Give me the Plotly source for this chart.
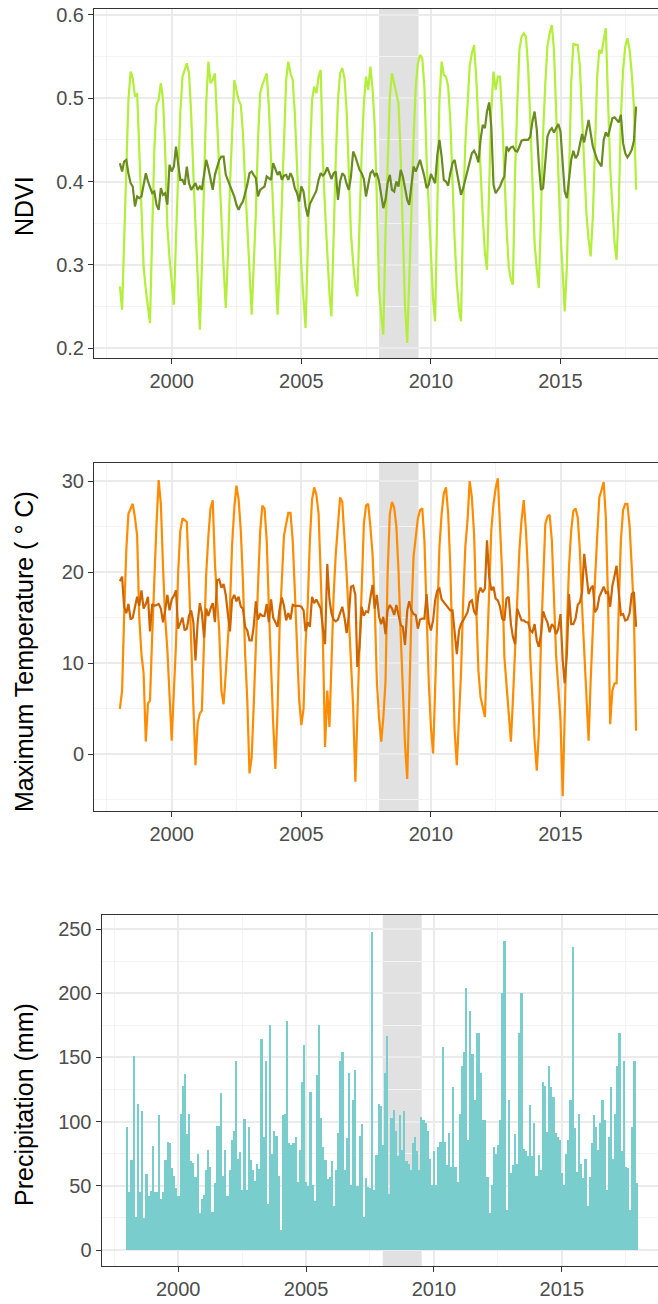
import pandas as pd
import plotly.graph_objects as go

# ---------------- data (monthly, Jan 1998 - Dec 2017) ----------------
dates = pd.date_range("1998-01-01", periods=240, freq="MS")

ndvi = [
    0.274, 0.246, 0.326, 0.418, 0.498, 0.532, 0.524, 0.502, 0.506, 0.438, 0.362, 0.298,
    0.270, 0.250, 0.230, 0.338, 0.438, 0.492, 0.498, 0.518, 0.498, 0.438, 0.346, 0.308,
    0.282, 0.252, 0.330, 0.422, 0.482, 0.526, 0.534, 0.542, 0.530, 0.482, 0.410, 0.342,
    0.278, 0.222, 0.298, 0.394, 0.494, 0.544, 0.518, 0.522, 0.530, 0.474, 0.410, 0.346,
    0.298, 0.248, 0.306, 0.394, 0.466, 0.522, 0.510, 0.498, 0.492, 0.458, 0.398, 0.346,
    0.298, 0.240, 0.298, 0.362, 0.450, 0.506, 0.516, 0.522, 0.530, 0.490, 0.422, 0.358,
    0.294, 0.240, 0.298, 0.378, 0.466, 0.522, 0.544, 0.530, 0.522, 0.482, 0.418, 0.350,
    0.298, 0.258, 0.224, 0.318, 0.426, 0.498, 0.514, 0.506, 0.526, 0.534, 0.426, 0.366,
    0.306, 0.266, 0.238, 0.338, 0.426, 0.498, 0.530, 0.536, 0.524, 0.486, 0.418, 0.338,
    0.302, 0.274, 0.262, 0.358, 0.434, 0.494, 0.526, 0.510, 0.538, 0.512, 0.466, 0.378,
    0.270, 0.238, 0.216, 0.338, 0.430, 0.502, 0.530, 0.518, 0.508, 0.494, 0.430, 0.338,
    0.250, 0.206, 0.274, 0.362, 0.450, 0.514, 0.542, 0.552, 0.548, 0.514, 0.426, 0.370,
    0.306, 0.258, 0.232, 0.394, 0.498, 0.544, 0.528, 0.526, 0.514, 0.474, 0.394, 0.330,
    0.278, 0.246, 0.232, 0.370, 0.446, 0.502, 0.538, 0.554, 0.564, 0.526, 0.466, 0.410,
    0.358, 0.314, 0.294, 0.394, 0.486, 0.532, 0.510, 0.526, 0.526, 0.478, 0.406, 0.346,
    0.298, 0.282, 0.276, 0.410, 0.490, 0.558, 0.574, 0.578, 0.574, 0.538, 0.474, 0.394,
    0.326, 0.294, 0.272, 0.358, 0.458, 0.518, 0.562, 0.578, 0.588, 0.558, 0.482, 0.394,
    0.338, 0.290, 0.244, 0.298, 0.390, 0.518, 0.566, 0.564, 0.564, 0.538, 0.478, 0.410,
    0.362, 0.330, 0.310, 0.358, 0.450, 0.526, 0.558, 0.554, 0.570, 0.584, 0.498, 0.418,
    0.370, 0.326, 0.306, 0.370, 0.478, 0.534, 0.562, 0.572, 0.558, 0.530, 0.490, 0.390,
]

ndvi_trend = [
    0.422, 0.412, 0.424, 0.426, 0.410, 0.398, 0.394, 0.370, 0.382, 0.380, 0.382, 0.398,
    0.410, 0.400, 0.392, 0.386, 0.388, 0.372, 0.366, 0.392, 0.384, 0.386, 0.372, 0.420,
    0.412, 0.418, 0.442, 0.422, 0.402, 0.402, 0.396, 0.418, 0.398, 0.390, 0.394, 0.398,
    0.390, 0.394, 0.390, 0.410, 0.426, 0.416, 0.402, 0.390, 0.408, 0.416, 0.426, 0.430,
    0.430, 0.408, 0.402, 0.394, 0.388, 0.382, 0.372, 0.366, 0.372, 0.376, 0.386, 0.396,
    0.410, 0.412, 0.408, 0.404, 0.382, 0.390, 0.392, 0.394, 0.406, 0.404, 0.402, 0.422,
    0.416, 0.408, 0.412, 0.402, 0.407, 0.408, 0.402, 0.410, 0.404, 0.392, 0.386, 0.376,
    0.394, 0.388, 0.370, 0.358, 0.373, 0.378, 0.384, 0.389, 0.402, 0.410, 0.407, 0.410,
    0.417, 0.408, 0.403, 0.410, 0.412, 0.378, 0.400, 0.410, 0.407, 0.397, 0.390, 0.406,
    0.436, 0.430, 0.423, 0.414, 0.410, 0.403, 0.382, 0.396, 0.410, 0.413, 0.407, 0.410,
    0.400, 0.384, 0.368, 0.378, 0.398, 0.408, 0.390, 0.388, 0.400, 0.394, 0.414, 0.406,
    0.394, 0.378, 0.372, 0.398, 0.418, 0.412, 0.420, 0.426, 0.416, 0.406, 0.392, 0.396,
    0.409, 0.404, 0.398, 0.432, 0.450, 0.430, 0.402, 0.400, 0.395, 0.410, 0.422, 0.426,
    0.410, 0.398, 0.384, 0.392, 0.403, 0.413, 0.424, 0.434, 0.437, 0.432, 0.423, 0.450,
    0.468, 0.464, 0.484, 0.495, 0.466, 0.396, 0.386, 0.390, 0.394, 0.401, 0.406, 0.442,
    0.437, 0.441, 0.442, 0.437, 0.436, 0.442, 0.449, 0.450, 0.450, 0.450, 0.454, 0.472,
    0.484, 0.462, 0.422, 0.390, 0.392, 0.428, 0.454, 0.461, 0.464, 0.459, 0.464, 0.469,
    0.460, 0.426, 0.388, 0.380, 0.402, 0.426, 0.437, 0.428, 0.432, 0.446, 0.457, 0.447,
    0.462, 0.474, 0.458, 0.442, 0.434, 0.426, 0.422, 0.418, 0.450, 0.459, 0.454, 0.466,
    0.476, 0.477, 0.474, 0.471, 0.480, 0.446, 0.434, 0.429, 0.433, 0.438, 0.449, 0.490,
]

tmax = [
    5.0, 7.0, 15.0, 22.4, 26.4, 27.0, 27.5, 26.0, 24.0, 15.0, 11.0, 8.9,
    1.4, 5.6, 5.9, 13.0, 20.0, 25.3, 30.1, 27.5, 20.5, 15.0, 11.5, 6.0,
    1.5, 7.0, 12.0, 20.0, 24.5, 25.9, 25.7, 25.5, 19.1, 12.5, 5.2, -1.2,
    3.4, 4.5, 4.8, 12.5, 19.8, 24.0, 27.0, 27.9, 21.0, 17.0, 13.5, 7.0,
    5.5, 8.9, 12.0, 16.2, 23.0, 27.0, 29.5, 28.0, 24.5, 19.0, 11.0, 6.0,
    -2.1, -0.3, 5.2, 11.0, 18.5, 24.5, 27.3, 27.0, 23.5, 16.2, 8.9, 3.4,
    -1.6, 5.0, 14.0, 20.0, 24.0, 25.3, 26.5, 26.5, 23.5, 18.0, 12.5, 6.0,
    3.2, 5.0, 12.0, 16.5, 23.5, 28.0, 29.3, 28.5, 26.4, 19.8, 12.5, 0.8,
    7.0, 3.0, 10.0, 17.5, 22.0, 25.5, 28.2, 27.7, 24.0, 19.8, 15.0, 10.0,
    5.2, -3.0, 5.0, 12.0, 18.0, 25.3, 27.3, 27.5, 25.0, 22.0, 16.5, 8.0,
    4.0, 1.4, 4.0, 8.0, 20.0, 26.4, 27.7, 27.1, 25.0, 20.2, 13.2, 6.7,
    1.0, -2.7, 7.0, 15.4, 21.7, 24.2, 25.9, 26.8, 27.0, 23.5, 15.4, 8.1,
    3.0, 0.1, 7.0, 15.8, 22.8, 26.4, 28.6, 29.3, 26.4, 20.6, 10.7, 2.6,
    -1.2, 3.4, 8.9, 16.9, 22.8, 25.7, 30.0, 28.2, 24.2, 16.2, 9.2, 6.3,
    5.2, 4.1, 11.0, 19.1, 24.6, 27.5, 29.2, 30.3, 25.7, 19.8, 10.7, 7.4,
    4.5, 1.4, 5.9, 11.8, 16.9, 22.4, 25.7, 27.9, 24.6, 19.8, 10.7, 5.9,
    1.5, -1.8, 2.3, 12.5, 19.1, 25.3, 26.1, 26.3, 23.5, 16.2, 10.7, 7.4,
    3.7, -4.6, 4.5, 14.0, 20.6, 24.6, 26.7, 27.0, 26.0, 22.4, 16.2, 11.4,
    6.7, 1.5, 8.1, 14.7, 19.1, 23.9, 28.2, 29.0, 29.9, 26.0, 16.9, 3.3,
    7.0, 7.8, 7.8, 16.2, 23.5, 26.8, 27.5, 27.5, 25.0, 20.6, 15.4, 2.6,
]

tmax_trend = [
    19.0, 19.5, 16.2, 15.5, 16.5, 14.8, 15.0, 16.3, 17.3, 16.3, 18.0, 16.0,
    16.5, 17.3, 13.5, 16.5, 16.3, 16.4, 16.5, 16.0, 14.5, 15.8, 17.5, 15.8,
    17.0, 17.4, 18.0, 13.8, 14.5, 15.0, 13.6, 13.8, 15.2, 15.8, 14.5, 10.3,
    14.5, 16.6, 15.5, 12.8, 16.0, 15.2, 16.0, 16.6, 14.5, 19.1, 19.2, 18.3,
    18.7, 17.5, 15.5, 13.5, 17.0, 17.5, 16.8, 17.3, 16.2, 16.0, 14.0, 13.6,
    12.5, 12.5, 14.0, 16.8, 14.8, 15.4, 15.2, 15.2, 16.5, 14.5, 17.0, 15.0,
    14.5, 14.0, 16.0, 17.2, 16.3, 14.7, 15.5, 14.8, 16.4, 16.3, 16.3, 16.3,
    16.2, 15.8, 13.5, 14.5, 14.0, 17.3, 16.6, 17.0, 16.5, 16.0, 13.8, 12.1,
    20.9, 17.0, 15.5, 14.8, 14.6, 14.8, 15.5, 16.2, 15.0, 13.3, 15.2, 18.4,
    18.5, 17.5, 9.6, 11.8, 16.2, 15.2, 15.7, 15.6, 17.2, 18.6, 16.0, 17.5,
    15.1, 14.3, 15.1, 13.2, 15.8, 16.4, 16.0, 15.3, 16.4, 15.4, 14.2, 14.0,
    12.0, 15.8, 16.8, 15.8, 15.4, 15.3, 13.8, 14.8, 14.9, 14.9, 17.6, 14.5,
    13.6, 14.7, 16.9, 18.0, 18.2, 17.0, 16.7, 16.5, 16.2, 15.8, 15.8, 13.1,
    11.0, 13.6, 14.3, 14.7, 15.1, 15.6, 16.7, 16.9, 15.7, 15.3, 17.6, 18.3,
    17.8, 18.2, 23.5, 19.5, 18.0, 18.4, 17.1, 16.9, 16.2, 14.9, 14.7, 17.1,
    17.3, 14.3, 12.9, 12.1, 16.0, 15.3, 14.7, 14.7, 14.5, 14.5, 13.6, 13.4,
    14.3, 12.5, 11.8, 13.2, 15.7, 15.0, 14.5, 13.4, 14.3, 14.0, 13.2, 13.8,
    15.4, 10.3, 7.8, 11.0, 17.6, 14.3, 14.3, 14.9, 16.4, 16.7, 17.8, 22.0,
    19.5, 17.6, 18.2, 18.5, 15.6, 16.0, 17.3, 17.9, 18.4, 17.7, 17.8, 16.2,
    18.5, 19.6, 20.7, 17.8, 15.3, 15.4, 14.7, 14.8, 15.5, 17.6, 17.8, 14.0,
]

precip = [
    96, 45, 70, 151, 26, 114, 45, 108, 25, 59, 42, 46,
    81, 45, 45, 105, 40, 45, 70, 84, 83, 64, 58, 48,
    42, 106, 128, 137, 90, 106, 69, 68, 57, 75, 29, 40,
    43, 62, 78, 65, 30, 52, 97, 97, 122, 58, 78, 42,
    62, 86, 93, 147, 71, 76, 47, 102, 47, 96, 70, 62,
    54, 67, 63, 164, 88, 147, 36, 175, 75, 93, 89, 58,
    16, 105, 106, 178, 83, 82, 83, 88, 53, 78, 131, 160,
    53, 50, 123, 51, 38, 136, 175, 103, 80, 70, 55, 57,
    69, 34, 62, 91, 147, 154, 62, 87, 138, 51, 117, 140,
    50, 89, 98, 26, 56, 49, 48, 248, 47, 74, 114, 112,
    82, 138, 167, 44, 103, 109, 93, 73, 105, 78, 108, 69,
    67, 62, 83, 88, 77, 62, 104, 101, 99, 93, 71, 51,
    77, 51, 80, 84, 158, 84, 66, 91, 65, 127, 65, 53,
    106, 143, 154, 204, 86, 186, 153, 117, 169, 169, 138, 101,
    101, 57, 29, 51, 80, 75, 82, 101, 200, 241, 31, 117,
    60, 66, 90, 67, 169, 200, 79, 77, 73, 113, 73, 99,
    58, 74, 62, 131, 128, 92, 143, 127, 119, 91, 88, 86,
    60, 51, 75, 86, 117, 236, 95, 61, 106, 67, 56, 71,
    34, 57, 83, 105, 96, 78, 99, 117, 101, 47, 88, 127,
    71, 106, 143, 169, 77, 147, 65, 64, 31, 96, 147, 52,
]

year_ticks = ["2000-01-01", "2005-01-01", "2010-01-01", "2015-01-01"]
year_labels = ["2000", "2005", "2010", "2015"]
year_minor = ["1997-07-02", "2002-07-02", "2007-07-02", "2012-07-02", "2017-07-02"]
shade_period = ["2008-01-01", "2009-07-10"]

ndvi_ticks = [0.2, 0.3, 0.4, 0.5, 0.6]
temp_ticks = [0, 10, 20, 30]
prec_ticks = [0, 50, 100, 150, 200, 250]

# ---------------- styling ----------------
FONT = "Liberation Sans, Arial, sans-serif"
W, H = 658, 1304
FRAME = "#333333"
GRID = "#EBEBEB"
GRID_MINOR = "#F3F3F3"
TICKFONT = dict(family=FONT, size=20, color="#4D4D4D")
XRANGE = ["1997-01-01", "2018-10-06"]


def xaxis(domain_left, anchor):
    return dict(
        domain=[domain_left / W, 1.0], anchor=anchor, type="date", range=XRANGE,
        tickmode="array", tickvals=year_ticks, ticktext=year_labels,
        ticks="outside", ticklen=5, tickwidth=1, tickcolor=FRAME,
        showline=True, linecolor=FRAME, linewidth=1, mirror=True,
        showgrid=True, gridcolor=GRID, gridwidth=1.5, zeroline=False,
        minor=dict(tickvals=year_minor, showgrid=True, gridcolor=GRID_MINOR,
                   gridwidth=1, ticks=""),
        tickfont=TICKFONT, automargin=False, fixedrange=True,
    )


def yaxis(top, bottom, rng, tickvals, labels, minor, anchor):
    return dict(
        domain=[1 - bottom / H, 1 - top / H], anchor=anchor, range=rng,
        tickmode="array", tickvals=tickvals, ticktext=labels,
        ticks="outside", ticklen=5, tickwidth=1, tickcolor=FRAME,
        showline=True, linecolor=FRAME, linewidth=1, mirror=False,
        showgrid=True, gridcolor=GRID, gridwidth=1.5, zeroline=False,
        minor=dict(tickvals=minor, showgrid=True, gridcolor=GRID_MINOR,
                   gridwidth=1, ticks=""),
        tickfont=TICKFONT, automargin=False, fixedrange=True,
    )


fig = go.Figure()

fig.add_trace(go.Scatter(x=dates, y=ndvi, mode="lines", xaxis="x", yaxis="y",
                         line=dict(color="#B3EE3A", width=2.2), hoverinfo="skip"))
fig.add_trace(go.Scatter(x=dates, y=ndvi_trend, mode="lines", xaxis="x", yaxis="y",
                         line=dict(color="#698B22", width=2.2), hoverinfo="skip"))
fig.add_trace(go.Scatter(x=dates, y=tmax, mode="lines", xaxis="x2", yaxis="y2",
                         line=dict(color="#FF8C00", width=2.2), hoverinfo="skip"))
fig.add_trace(go.Scatter(x=dates, y=tmax_trend, mode="lines", xaxis="x2", yaxis="y2",
                         line=dict(color="#CD6600", width=2.2), hoverinfo="skip"))
fig.add_trace(go.Bar(x=dates, y=precip, xaxis="x3", yaxis="y3",
                     width=24 * 86400000,
                     marker=dict(color="#79CDCD", line=dict(width=0)),
                     hoverinfo="skip"))

for xr, yr in [("x", "y"), ("x2", "y2"), ("x3", "y3")]:
    fig.add_shape(type="rect", xref=xr, yref=yr + " domain", x0=shade_period[0],
                  x1=shade_period[1], y0=0, y1=1, fillcolor="#DCDCDC", opacity=0.85,
                  line=dict(width=0), layer="below")

fig.update_layout(
    width=W, height=H, margin=dict(l=0, r=0, t=0, b=0),
    paper_bgcolor="white", plot_bgcolor="white", template="none",
    showlegend=False, font=dict(family=FONT),
    xaxis=xaxis(94, "y"),
    xaxis2=xaxis(94, "y2"),
    xaxis3=xaxis(101.5, "y3"),
    yaxis=yaxis(9, 358, [0.188, 0.6072], ndvi_ticks, ["0.2", "0.3", "0.4", "0.5", "0.6"],
                [0.25, 0.35, 0.45, 0.55], "x"),
    yaxis2=yaxis(463, 811, [-6.22, 31.98], temp_ticks, ["0", "10", "20", "30"],
                 [-5, 5, 15, 25], "x2"),
    yaxis3=yaxis(915, 1266, [-12.4, 260.9], prec_ticks, [str(v) for v in prec_ticks],
                 [25, 75, 125, 175, 225], "x3"),
    bargap=0,
)

titles = [("NDVI", 206), ("Maximum Temperature ( \u00b0 C)", 652), ("Precipitation (mm)", 1105)]
for text, yc in titles:
    fig.add_annotation(text=text, xref="paper", yref="paper", x=24 / W, y=1 - yc / H,
                       xanchor="center", yanchor="middle", textangle=-90, showarrow=False,
                       font=dict(family=FONT, size=25, color="black"))

fig.write_html("out.html")
